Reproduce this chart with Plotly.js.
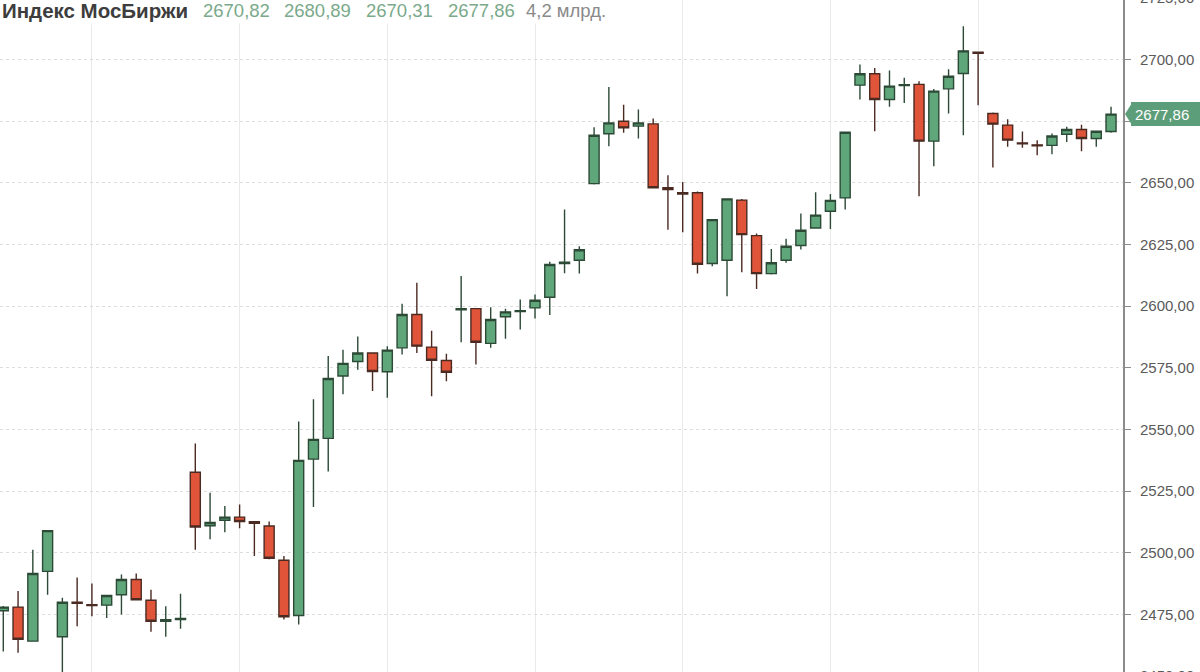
<!DOCTYPE html>
<html>
<head>
<meta charset="utf-8">
<script src="https://cdn.plot.ly/plotly-3.0.1.min.js"></script>
<style>
  html, body { margin: 0; padding: 0; width: 1200px; height: 672px; overflow: hidden; background: #fff; }
  #chart { position: absolute; left: 0; top: -14px; width: 1200px; height: 700px; }
</style>
</head>
<body>
<div id="chart"></div>
<script>
// ---- Data ----
const seriesName = "Индекс МосБиржи";
const headerValues = ["2670,82", "2680,89", "2670,31", "2677,86"];
const volumeText = "4,2 млрд.";

const openP = [
  2476.5, 2478.0, 2464.2, 2492.5, 2466.0, 2480.0, 2479.0, 2478.8, 2483.0, 2489.2,
  2480.8, 2472.3, 2473.0, 2532.7, 2511.0, 2513.2, 2514.5, 2512.6, 2510.9, 2497.0,
  2474.6, 2538.0, 2546.4, 2571.7, 2577.6, 2581.0, 2573.4, 2583.1, 2596.6, 2583.4,
  2578.0, 2598.5, 2599.0, 2584.9, 2595.7, 2597.8, 2599.3, 2603.6, 2617.3, 2618.6,
  2649.7, 2669.9, 2675.0, 2673.0, 2673.9, 2648.0, 2646.0, 2646.0, 2617.3, 2618.6,
  2643.0, 2628.6, 2613.2, 2618.6, 2624.6, 2631.7, 2638.5, 2643.9, 2689.6, 2694.2,
  2683.8, 2689.4, 2689.9, 2666.9, 2688.1, 2694.3, 2703.0, 2678.1, 2673.4, 2666.2,
  2665.4, 2665.2, 2669.7, 2671.6, 2668.0, 2670.82
];
const highP = [
  2478.5, 2484.5, 2501.3, 2509.3, 2481.8, 2490.0, 2487.6, 2483.0, 2491.2, 2491.6,
  2485.0, 2478.4, 2483.4, 2544.3, 2524.4, 2519.0, 2519.6, 2512.8, 2512.7, 2498.7,
  2553.2, 2562.3, 2579.8, 2582.3, 2587.7, 2581.2, 2583.8, 2601.0, 2609.5, 2590.0,
  2580.7, 2612.2, 2599.2, 2599.6, 2599.0, 2602.7, 2604.7, 2618.0, 2639.2, 2624.3,
  2672.5, 2688.9, 2681.7, 2679.7, 2676.1, 2653.1, 2650.3, 2646.5, 2635.3, 2643.7,
  2643.5, 2629.5, 2623.2, 2627.3, 2637.6, 2646.2, 2645.5, 2670.7, 2698.0, 2696.6,
  2695.5, 2692.6, 2691.2, 2688.0, 2696.0, 2713.5, 2703.2, 2678.5, 2675.8, 2670.8,
  2667.3, 2670.0, 2672.7, 2673.6, 2671.0, 2680.89
];
const lowP = [
  2460.0, 2459.5, 2464.0, 2483.0, 2450.0, 2470.2, 2474.3, 2473.6, 2475.0, 2480.8,
  2468.0, 2466.0, 2469.2, 2501.3, 2505.5, 2508.4, 2510.0, 2498.7, 2497.4, 2473.0,
  2471.0, 2518.6, 2533.0, 2564.3, 2574.2, 2565.6, 2562.9, 2580.4, 2581.0, 2563.5,
  2569.6, 2585.4, 2576.4, 2583.1, 2586.8, 2590.5, 2595.0, 2596.4, 2613.3, 2613.2,
  2649.3, 2664.8, 2670.3, 2668.0, 2647.8, 2631.0, 2630.0, 2613.2, 2616.2, 2604.0,
  2613.8, 2607.0, 2612.8, 2617.6, 2623.0, 2631.5, 2631.3, 2639.2, 2683.8, 2670.9,
  2680.8, 2682.4, 2644.6, 2656.7, 2678.1, 2669.3, 2681.5, 2656.2, 2664.6, 2664.2,
  2661.2, 2661.6, 2666.6, 2662.8, 2664.6, 2670.31
];
const closeP = [
  2478.0, 2465.0, 2491.6, 2509.0, 2480.0, 2479.5, 2478.6, 2482.7, 2489.2, 2481.0,
  2472.3, 2472.9, 2473.4, 2510.5, 2512.3, 2514.5, 2512.7, 2512.0, 2497.8, 2474.1,
  2537.5, 2546.0, 2570.7, 2576.8, 2581.0, 2573.5, 2582.2, 2596.6, 2583.8, 2578.1,
  2573.2, 2599.0, 2585.4, 2594.6, 2597.7, 2598.2, 2602.4, 2616.9, 2617.8, 2622.9,
  2669.3, 2674.3, 2672.3, 2674.3, 2648.0, 2647.3, 2645.5, 2617.0, 2635.1, 2643.5,
  2629.0, 2613.2, 2617.6, 2624.3, 2630.8, 2636.9, 2642.9, 2670.5, 2694.2, 2683.8,
  2689.2, 2689.8, 2666.9, 2687.2, 2693.2, 2703.5, 2702.5, 2673.8, 2667.3, 2665.8,
  2665.0, 2669.0, 2671.6, 2668.0, 2670.9, 2677.86
];
const yTickVals = [2450, 2475, 2500, 2525, 2550, 2575, 2600, 2625, 2650, 2675, 2700, 2725];

// ---- Layout constants (styling) ----
const W = 1200, H = 700, R = 77;
const plotW = W - R, plotH = H;
const xRange = [-0.223, 75.81];
const yRange = [2446.02, 2729.80];
const green = '#5fa67b', red = '#e0553a';

const xIdx = openP.map((_, i) => i);
const lastClose = closeP[closeP.length - 1];
const fmt = v => v.toFixed(2).replace('.', ',');
const yTickText = yTickVals.map(v => Math.abs(v - lastClose) < 6 ? '' : fmt(v));

const trace = {
  type: 'candlestick',
  x: xIdx, open: openP, high: highP, low: lowP, close: closeP,
  increasing: { fillcolor: green, line: { color: '#2c4a36', width: 1.4 } },
  decreasing: { fillcolor: red, line: { color: '#4b2a22', width: 1.4 } },
  whiskerwidth: 0,
  hoverinfo: 'skip',
  showlegend: false
};

const yp = v => (v - yRange[0]) / (yRange[1] - yRange[0]);
const pxX = px => px / plotW;
const pxY = py => py / plotH;
const tagY = yp(lastClose);

const headerFontNum = { family: 'Liberation Sans, Arial, sans-serif', size: 18.5, color: '#7aa98b' };
const headerTop = 1 - pxY(14 + 11);
const headerXs = [202, 283, 365, 447];
const annotations = [
  { xref: 'paper', yref: 'paper', x: pxX(-1), y: headerTop, xanchor: 'left', yanchor: 'middle',
    text: '<b>' + seriesName + '</b>', showarrow: false, bgcolor: '#ffffff', borderpad: 2,
    font: { family: 'Liberation Sans, Arial, sans-serif', size: 20.5, color: '#3d3d3d' } }
];
headerValues.forEach((t, i) => annotations.push({
  xref: 'paper', yref: 'paper', x: pxX(headerXs[i] - 2), y: headerTop, xanchor: 'left', yanchor: 'middle',
  text: t, showarrow: false, bgcolor: '#ffffff', borderpad: 2, font: headerFontNum
}));
annotations.push({
  xref: 'paper', yref: 'paper', x: pxX(523), y: headerTop, xanchor: 'left', yanchor: 'middle',
  text: volumeText, showarrow: false, bgcolor: '#ffffff', borderpad: 2,
  font: { family: 'Liberation Sans, Arial, sans-serif', size: 18.5, color: '#8a8a8a' }
});
annotations.push({
  xref: 'paper', yref: 'paper', x: pxX(1131), y: tagY, xanchor: 'left', yanchor: 'middle',
  text: fmt(lastClose), showarrow: false, bgcolor: '#5d9e7a', bordercolor: '#5d9e7a',
  borderpad: 3, width: 66, height: 16, align: 'left',
  font: { family: 'Liberation Sans, Arial, sans-serif', size: 15, color: '#ffffff' }
});

const shapes = [{
  type: 'path', xref: 'paper', yref: 'paper', layer: 'above',
  path: 'M ' + pxX(1125) + ',' + tagY +
        ' L ' + pxX(1132) + ',' + (tagY + pxY(11)) +
        ' L ' + pxX(1132) + ',' + (tagY - pxY(11)) + ' Z',
  fillcolor: '#5d9e7a', line: { width: 0 }
}];

const layout = {
  width: W, height: H,
  margin: { l: 0, r: R, t: 0, b: 0, pad: 0 },
  paper_bgcolor: '#ffffff', plot_bgcolor: '#ffffff',
  showlegend: false,
  boxgap: 0.32, boxgroupgap: 0,
  xaxis: {
    type: 'linear', range: xRange, fixedrange: true,
    rangeslider: { visible: false },
    showticklabels: false, ticks: '', zeroline: false, showline: false,
    tick0: 6, dtick: 10, showgrid: true, gridcolor: '#e9e9e9', gridwidth: 1
  },
  yaxis: {
    side: 'right', range: yRange, fixedrange: true,
    tickmode: 'array', tickvals: yTickVals, ticktext: yTickText,
    showline: true, linecolor: '#8c8c8c', linewidth: 2,
    ticks: 'outside', ticklen: 6, tickcolor: '#8c8c8c', tickwidth: 1,
    ticklabelstandoff: 6,
    tickfont: { family: 'Liberation Sans, Arial, sans-serif', size: 15, color: '#5a5a5a' },
    showgrid: true, gridcolor: '#dddddd', gridwidth: 1, griddash: 'dot',
    zeroline: false
  },
  annotations: annotations,
  shapes: shapes
};

Plotly.newPlot('chart', [trace], layout, { displayModeBar: false, staticPlot: true });
</script>
</body>
</html>
